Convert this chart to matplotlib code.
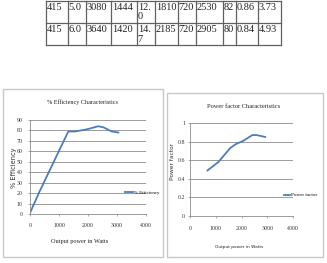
import matplotlib
matplotlib.use("Agg")
import matplotlib.pyplot as plt
from matplotlib.patches import Rectangle

W, H = 327, 263

# ---- table fragment data ----
table_rows = [
    ["415", "5.0", "3080", "1444", "12.\n0", "1810", "720", "2530", "82", "0.86", "3.73"],
    ["415", "6.0", "3640", "1420", "14.\n7", "2185", "720", "2905", "80", "0.84", "4.93"],
]

# ---- chart data ----
eff_power = [0, 320, 1320, 1550, 1950, 2350, 2530, 2820, 3050]
eff_values = [1, 21, 79, 79, 81, 84, 83, 79, 78]

pf_power = [680, 1100, 1560, 1760, 2080, 2420, 2590, 2920]
pf_values = [0.49, 0.58, 0.73, 0.77, 0.81, 0.87, 0.87, 0.85]

eff_yticks = list(range(0, 100, 10))
pf_yticks = [0, 0.2, 0.4, 0.6, 0.8, 1.0]
pf_yticklabels = ["0", "0.2", "0.4", "0.6", "0.8", "1"]
x_ticks = [0, 1000, 2000, 3000, 4000]

fig = plt.figure(figsize=(W / 100, H / 100), dpi=100)
fig.patch.set_facecolor("white")

# overlay axes in pixel coordinates
ov = fig.add_axes([0, 0, 1, 1])
ov.set_xlim(0, W)
ov.set_ylim(H, 0)
ov.axis("off")

# table
col_edges = [45.7, 68, 86, 111, 137, 155, 178, 196, 223, 236, 258, 281]
row_edges = [0.7, 23, 45]
tcol = "#606060"
for x in col_edges:
    ov.plot([x, x], [row_edges[0], row_edges[-1]], color=tcol, lw=0.9)
for y in row_edges:
    ov.plot([col_edges[0], col_edges[-1]], [y, y], color=tcol, lw=0.9)
for r, row in enumerate(table_rows):
    for c, txt in enumerate(row):
        ov.text(col_edges[c] + 0.8, row_edges[r] + 2.5, txt, ha="left", va="top",
                fontsize=7.5, family="Liberation Serif", color="#222222",
                linespacing=1.0)

# chart boxes
ov.add_patch(Rectangle((3, 89), 160, 168, fill=False, ec="#c8c8c8", lw=1.0))
ov.add_patch(Rectangle((166.5, 92.5), 156.5, 164.5, fill=False, ec="#c8c8c8", lw=1.0))


def px_axes(x0, y0, x1, y1):
    return fig.add_axes([x0 / W, 1 - y1 / H, (x1 - x0) / W, (y1 - y0) / H])


line_color = "#4a7ebb"
grid_color = "#8c8c8c"


def style(ax, ypad, xpad):
    for s in ["top", "right"]:
        ax.spines[s].set_visible(False)
    for s in ["left", "bottom"]:
        ax.spines[s].set_color(grid_color)
        ax.spines[s].set_linewidth(0.6)
    ax.grid(axis="y", color=grid_color, lw=0.6)
    ax.set_axisbelow(True)
    ax.tick_params(length=1.5, width=0.5, colors=grid_color, labelcolor="#333333")
    ax.tick_params(axis="y", pad=ypad)
    ax.tick_params(axis="x", pad=xpad)
    for lab in ax.get_xticklabels() + ax.get_yticklabels():
        lab.set_fontfamily("Liberation Serif")
        lab.set_fontsize(4.2)


# left chart
ax1 = px_axes(30, 120, 146, 214)
ax1.plot(eff_power, eff_values, color=line_color, lw=1.3, label="% Efficiency")
ax1.set_xlim(0, 4000)
ax1.set_ylim(0, 90)
ax1.set_xticks(x_ticks)
ax1.set_yticks(eff_yticks)
style(ax1, 4, 5)
fig.text(82 / W, 1 - 102 / H, "% Efficiency Characteristics", ha="center", va="center",
         fontsize=4.4, family="Liberation Serif", color="#222222")
fig.text(80 / W, 1 - 242 / H, "Output power in Watts", ha="center", va="center",
         fontsize=4.5, family="Liberation Serif", color="#222222")
fig.text(14 / W, 1 - 168 / H, "% Efficiency", ha="center", va="center", rotation=90,
         fontsize=4.8, family="DejaVu Sans", color="#333333")
ax1.legend(loc="center left", bbox_to_anchor=(125 / W, 1 - 193 / H),
           bbox_transform=fig.transFigure, frameon=False, handlelength=1.6,
           handletextpad=0.2, borderpad=0, borderaxespad=0,
           prop=dict(family="Liberation Serif", size=3.5))

# right chart
ax2 = px_axes(190, 123, 293, 216)
ax2.plot(pf_power, pf_values, color=line_color, lw=1.3, label="Power factor")
ax2.set_xlim(0, 4000)
ax2.set_ylim(0, 1)
ax2.set_xticks(x_ticks)
ax2.set_yticks(pf_yticks)
ax2.set_yticklabels(pf_yticklabels)
style(ax2, 2, 6)
fig.text(244 / W, 1 - 106 / H, "Power factor Characteristics", ha="center", va="center",
         fontsize=4.6, family="Liberation Serif", color="#222222")
fig.text(239 / W, 1 - 247 / H, "Output power in Watts", ha="center", va="center",
         fontsize=3.1, family="DejaVu Sans", color="#222222")
fig.text(173 / W, 1 - 161 / H, "Power factor", ha="center", va="center", rotation=90,
         fontsize=4.2, family="DejaVu Sans", color="#333333")
ax2.legend(loc="center left", bbox_to_anchor=(284 / W, 1 - 195 / H),
           bbox_transform=fig.transFigure, frameon=False, handlelength=1.2,
           handletextpad=0.2, borderpad=0, borderaxespad=0,
           prop=dict(family="Liberation Serif", size=3.6))

fig.savefig("out.png", dpi=100, facecolor="white")
